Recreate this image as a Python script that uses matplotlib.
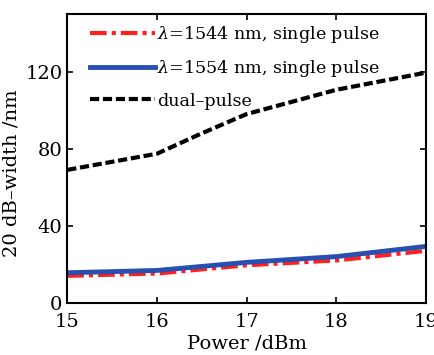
import matplotlib
matplotlib.use("Agg")
import matplotlib.pyplot as plt

power = [15, 16, 17, 18, 19]
width_1544 = [14.0, 15.2, 19.5, 22.0, 27.0]
width_1554 = [15.6, 16.8, 21.0, 24.0, 29.3]
power_dual = [15, 16, 16.5, 17, 18, 19]
width_dual = [69.0, 77.4, 88.0, 98.0, 110.6, 119.5]

plt.rcParams['font.family'] = ['DejaVu Serif']
plt.rcParams['mathtext.fontset'] = 'dejavuserif'

fig = plt.figure(figsize=(4.34, 3.55), dpi=100)
ax = fig.add_axes([0.155, 0.147, 0.827, 0.814])

ax.plot(power, width_1544, color='#ff2020', lw=3, ls=(0, (4, 1.2, 1, 1.2)),
        label=r'$\lambda$=1544 nm, single pulse')
ax.plot(power, width_1554, color='#2850b0', lw=3.5,
        label=r'$\lambda$=1554 nm, single pulse')
ax.plot(power_dual, width_dual, color='black', lw=3, ls=(0, (2.2, 0.9)),
        label='dual–pulse')

ax.set_xlim(15, 19)
ax.set_ylim(0, 150)
ax.set_xticks([15, 16, 17, 18, 19])
ax.set_yticks([0, 40, 80, 120])
ax.tick_params(direction='in', top=True, right=True, labelsize=14, length=4, width=1.2)
ax.tick_params(axis='x', pad=7)
for s in ax.spines.values():
    s.set_linewidth(1.5)

ax.set_xlabel('Power /dBm', fontsize=14, labelpad=3)
ax.set_ylabel('20 dB–width /nm', fontsize=14, labelpad=0)
ax.yaxis.set_label_coords(-0.13, 0.45)

ax.legend(loc='upper left', frameon=False, fontsize=12.6, handlelength=3.7,
          handletextpad=0.1, borderaxespad=0.2, labelspacing=0.75,
          bbox_to_anchor=(0.035, 1.0))

fig.savefig('out.png', dpi=100)
